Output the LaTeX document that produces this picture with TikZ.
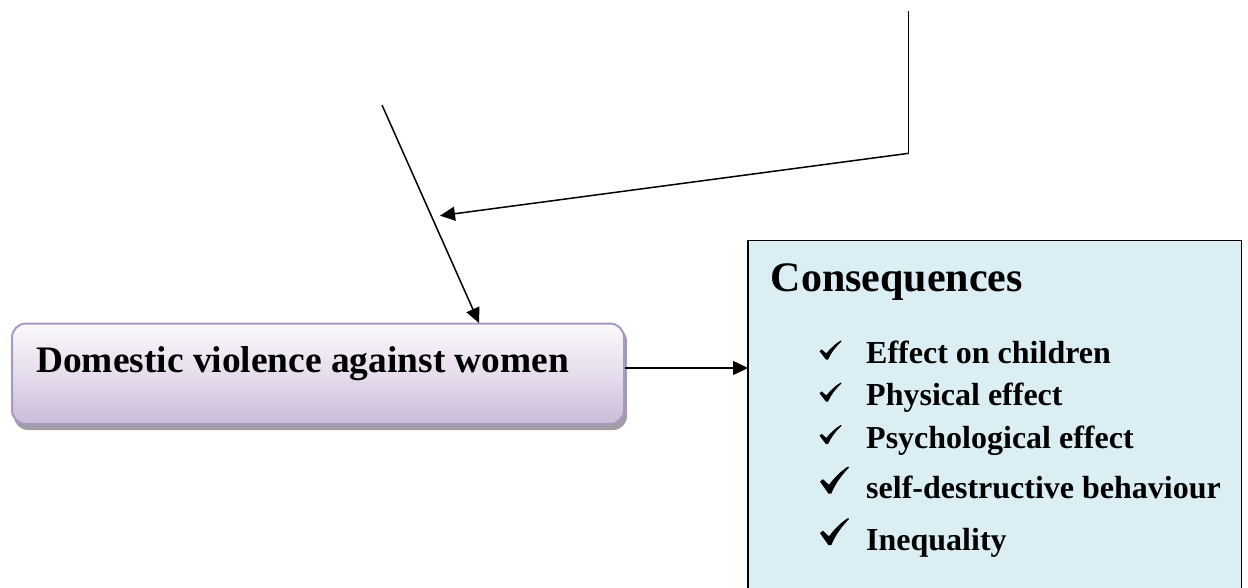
\documentclass[tikz,border=0pt]{standalone}
\usepackage{fontspec}
\setmainfont{Liberation Serif}
\usetikzlibrary{arrows.meta,shadows,calc}
\definecolor{lavtop}{HTML}{FBF9FC}
\definecolor{lavmid}{HTML}{E6DDEC}
\definecolor{lavbot}{HTML}{CBBBD8}
\definecolor{lavedge}{HTML}{A999C2}
\definecolor{shadowgray}{HTML}{A39DA8}
\definecolor{consfill}{HTML}{DAEEF3}
\tikzset{
  conn/.style={line width=1.5pt,-{Triangle[length=15pt,width=14pt]}},
  plain/.style={line width=1.5pt},
  itemtext/.style={font=\fontsize{32}{38}\selectfont\bfseries,anchor=base west,inner sep=0pt},
  pics/tick/.style={code={
    \fill (0,0.56) -- (0.10,0.47) -- (0.31,0.68)
      .. controls (0.5,0.4) and (0.75,0.14) .. (0.97,0) -- (1,0.04)
      .. controls (0.76,0.3) and (0.52,0.65) .. (0.39,1) -- (0.29,1) -- cycle;
  }},
}
\begin{document}
\begin{tikzpicture}[x=1pt,y=-1pt]
\useasboundingbox (0,0) rectangle (1248,587);
% left box shadow and box
\fill[shadowgray,rounded corners=14pt] (14,327) rectangle (627,430);
\node[draw=lavedge,line width=2pt,rounded corners=14pt,
      top color=lavtop,bottom color=lavbot,middle color=lavmid,
      minimum width=612pt,minimum height=100.5pt,anchor=north west,inner sep=0pt]
      (dv) at (11,322.5) {};
\node[font=\fontsize{37.4}{44}\selectfont\bfseries,anchor=base west,inner sep=0pt]
      (dvtext) at (36,372) {Domestic violence against women};
% right box
\node[fill=consfill,minimum width=493.5pt,minimum height=360pt,anchor=north west,inner sep=0pt]
      (cons) at (748,240.5) {};
\draw[line width=1.3pt] (748,600) -- (748,240.5) -- (1241.5,240.5) -- (1241.5,600);
\node[font=\fontsize{42}{50}\selectfont\bfseries,anchor=base west,inner sep=0pt]
      (title) at (770.5,291) {Consequences};
\pic[xscale=22,yscale=19] at (819.5,340.5) {tick};
\node[itemtext] (i1) at (866,363.5) {Effect on children};
\pic[xscale=22,yscale=19] at (819.5,382.5) {tick};
\node[itemtext] (i2) at (866,405.5) {Physical effect};
\pic[xscale=22,yscale=19] at (819.5,425) {tick};
\node[itemtext] (i3) at (866,448.5) {Psychological effect};
\pic[xscale=29,yscale=27] at (820,466.5) {tick};
\node[itemtext] (i4) at (866,498.5) {self-destructive behaviour};
\pic[xscale=29,yscale=27] at (820,518) {tick};
\node[itemtext] (i5) at (866,550) {Inequality};
% connectors
\coordinate (s1) at (382,105);
\coordinate (t1) at (479,323);
\draw[conn] (s1) -- (t1);
\coordinate (s2) at (908.7,10.7);
\coordinate (b2) at (908.7,153.3);
\coordinate (t2) at (440,215.7);
\draw[plain] (s2) -- (b2);
\draw[conn] (b2) -- (t2);
\draw[conn] (dv.east |- 0,368) -- (cons.west |- 0,368);
\end{tikzpicture}
\end{document}
